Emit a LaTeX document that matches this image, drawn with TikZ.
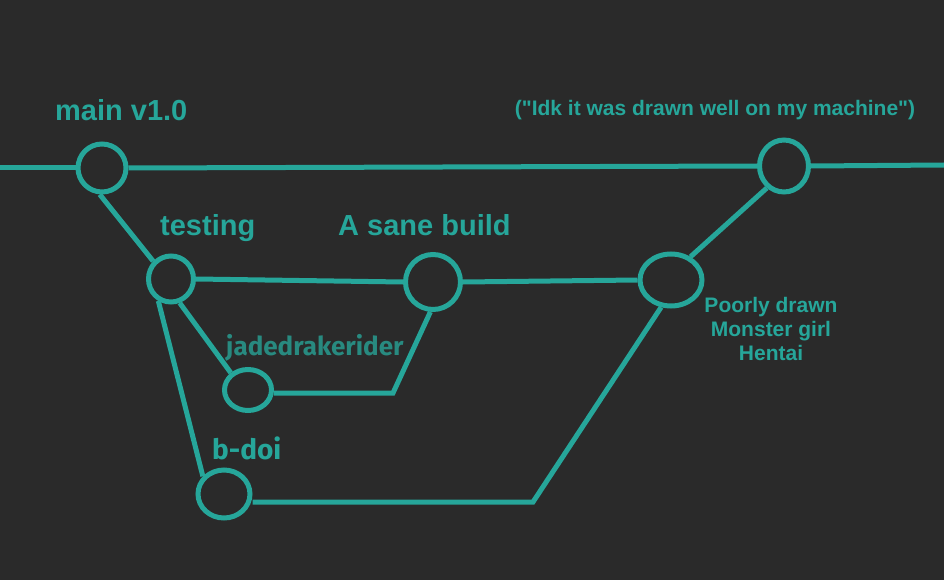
\documentclass[tikz,border=0pt]{standalone}
\usepackage{fontspec}
\setmainfont{Liberation Sans}
\newfontfamily\fira{Fira Sans}
\usetikzlibrary{shapes.geometric}
\definecolor{bg}{RGB}{42,42,42}
\definecolor{teal1}{RGB}{38,166,154}
\definecolor{teal2}{RGB}{40,138,128}
\tikzset{
  commit/.style={ellipse, draw=teal1, line width=5pt, inner sep=0pt},
  link/.style={draw=teal1, line width=5pt},
  lbl/.style={text=teal1, inner sep=0pt, font=\bfseries\fontsize{29}{34}\selectfont},
}
\begin{document}
\begin{tikzpicture}[x=1pt,y=-1pt]
\useasboundingbox (0,0) rectangle (944,580);
\fill[bg] (0,0) rectangle (944,580);
% commits
\node[commit, minimum width=48pt, minimum height=48pt] (main) at (102,168) {};
\node[commit, minimum width=49pt, minimum height=52pt] (rightc) at (784,166) {};
\node[commit, minimum width=45pt, minimum height=46pt] (testing) at (171,279) {};
\node[commit, minimum width=55pt, minimum height=55pt] (sane) at (433,282) {};
\node[commit, minimum width=62pt, minimum height=52pt] (merge) at (671,280) {};
\node[commit, minimum width=47pt, minimum height=41pt] (jade) at (248,390) {};
\node[commit, minimum width=52pt, minimum height=48pt] (bdoi) at (224,494) {};
% free ends
\coordinate (lstart) at (0,168);
\coordinate (rend) at (944,165);
\coordinate (c1) at (393,393);
\coordinate (c2) at (533,502);
% connectors
\draw[link] (lstart) -- (main.west);
\draw[link] (main.east) -- (rightc.west);
\draw[link] (rightc.east) -- (rend);
\draw[link] (main.-95) -- (testing.135);
\draw[link] (testing.east) -- (sane.west);
\draw[link] (sane.east) -- (merge.west);
\draw[link] (merge.50) -- (rightc.-128);
\draw[link] (testing.-120) -- (bdoi.140);
\draw[link] (testing.-70) -- (jade.135);
\draw[link] (jade.east |- c1) -- (c1) -- (sane.-95);
\draw[link] (merge.-110) -- (c2) -- (c2 -| bdoi.east);
% labels
\node[lbl, anchor=base west] (lmain) at (55,121) {main v1.0};
\node[lbl, anchor=base west] (ltest) at (160,235) {testing};
\node[lbl, anchor=base west] (lsane) at (338,235) {A sane build};
\node[lbl, anchor=base west, text=teal2, font=\fira\bfseries\fontsize{26}{30}\selectfont] (ljade) at (226,355) {jadedrakerider};
\node[lbl, anchor=base west, font=\fira\bfseries\fontsize{28}{32}\selectfont] (lbdoi) at (212,459) {b-doi};
\node[lbl, anchor=base, font=\bfseries\fontsize{21}{24}\selectfont] (lquote) at (715,116) {(\textquotedbl Idk it was drawn well on my machine\textquotedbl)};
\node[lbl, anchor=base, align=center, font=\bfseries\fontsize{21}{24}\selectfont] (lpoor) at (771,360) {Poorly drawn\\Monster girl\\Hentai};
\end{tikzpicture}
\end{document}
